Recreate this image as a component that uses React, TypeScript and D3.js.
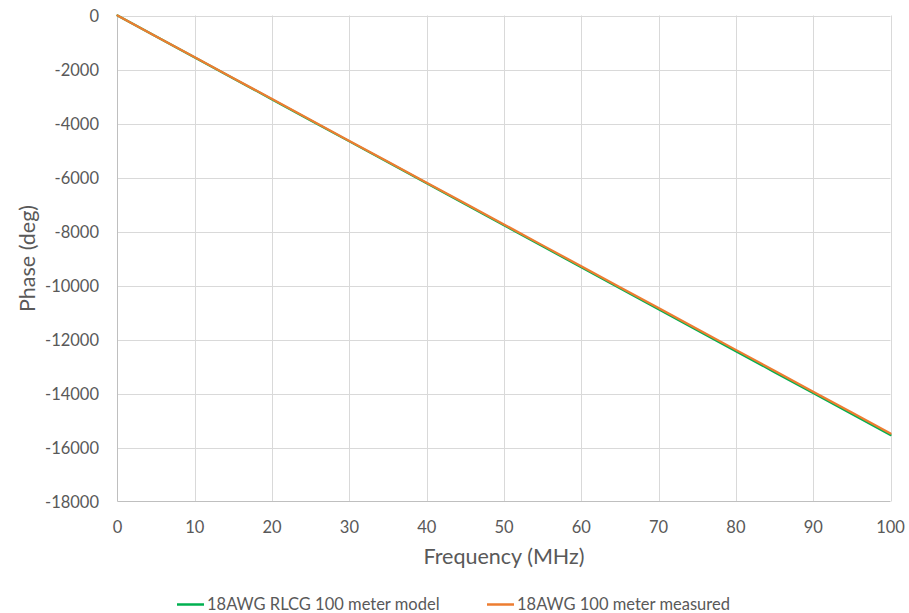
import React, { useEffect, useRef } from 'react';
import * as d3 from 'd3';

// frequency points (MHz)
const freqs = [0, 5, 10, 15, 20, 25, 30, 35, 40, 45, 50, 55, 60, 65, 70, 75, 80, 85, 90, 95, 100];
// phase (deg)
const modelPhase = [0, -777, -1554, -2331, -3108, -3885, -4662, -5439, -6216, -6993, -7770, -8547, -9324, -10101, -10878, -11655, -12432, -13209, -13986, -14763, -15540];
const measuredPhase = [0, -774, -1548, -2322, -3096, -3870, -4644, -5418, -6192, -6966, -7740, -8514, -9288, -10062, -10836, -11610, -12384, -13158, -13932, -14706, -15480];

const xTicks = [0, 10, 20, 30, 40, 50, 60, 70, 80, 90, 100];
const yTicks = [0, -2000, -4000, -6000, -8000, -10000, -12000, -14000, -16000, -18000];

const seriesNames = ['18AWG RLCG 100 meter model', '18AWG 100 meter measured'];
const seriesColors = ['#00b050', '#ed7d31'];

const FONT = 'Lato, "Open Sans", sans-serif';
const TEXT = '#595959';

export default function App() {
  const ref = useRef<SVGSVGElement>(null);

  useEffect(() => {
    document.body.style.margin = '0';
    document.body.style.overflow = 'hidden';

    const width = 909;
    const height = 613;
    const svg = d3.select(ref.current);
    svg.selectAll('*').remove();

    const x = d3.scaleLinear().domain([0, 100]).range([117.5, 890.5]);
    const y = d3.scaleLinear().domain([-18000, 0]).range([501.5, 15.5]);

    svg.append('rect').attr('width', width).attr('height', height).attr('fill', '#fff');

    // gridlines
    const grid = svg.append('g');
    grid.selectAll('line.v')
      .data(xTicks.slice(1))
      .join('line')
      .attr('x1', d => Math.round(x(d)) + 0.5)
      .attr('x2', d => Math.round(x(d)) + 0.5)
      .attr('y1', y(0))
      .attr('y2', y(-18000))
      .attr('stroke', '#d9d9d9');
    grid.selectAll('line.h')
      .data(yTicks.slice(0, -1))
      .join('line')
      .attr('x1', x(0))
      .attr('x2', x(100))
      .attr('y1', d => Math.round(y(d)) + 0.5)
      .attr('y2', d => Math.round(y(d)) + 0.5)
      .attr('stroke', '#d9d9d9');

    // axis lines
    svg.append('line')
      .attr('x1', x(0)).attr('x2', x(0))
      .attr('y1', y(0)).attr('y2', y(-18000))
      .attr('stroke', '#bfbfbf');
    svg.append('line')
      .attr('x1', x(0)).attr('x2', x(100))
      .attr('y1', y(-18000)).attr('y2', y(-18000))
      .attr('stroke', '#bfbfbf');

    // tick labels
    svg.append('g').selectAll('text')
      .data(yTicks)
      .join('text')
      .attr('x', 99)
      .attr('y', d => y(d) + 6.5)
      .attr('text-anchor', 'end')
      .attr('font-family', FONT)
      .attr('font-size', 16.5)
      .attr('fill', TEXT)
      .text(d => d);

    svg.append('g').selectAll('text')
      .data(xTicks)
      .join('text')
      .attr('x', d => x(d))
      .attr('y', 532.5)
      .attr('text-anchor', 'middle')
      .attr('font-family', FONT)
      .attr('font-size', 16.5)
      .attr('fill', TEXT)
      .text(d => d);

    // axis titles
    svg.append('text')
      .attr('x', (x(0) + x(100)) / 2)
      .attr('y', 563.5)
      .attr('text-anchor', 'middle')
      .attr('font-family', FONT)
      .attr('font-size', 21.5)
      .attr('fill', TEXT)
      .text('Frequency (MHz)');

    svg.append('text')
      .attr('transform', `translate(35,${(y(0) + y(-18000)) / 2}) rotate(-90)`)
      .attr('text-anchor', 'middle')
      .attr('font-family', FONT)
      .attr('font-size', 21.5)
      .attr('fill', TEXT)
      .text('Phase (deg)');

    // series
    const line = d3.line<number>()
      .x((_, i) => x(freqs[i]))
      .y(d => y(d));
    [modelPhase, measuredPhase].forEach((vals, i) => {
      svg.append('path')
        .datum(vals)
        .attr('d', line)
        .attr('fill', 'none')
        .attr('stroke', seriesColors[i])
        .attr('stroke-width', 2.25)
        .attr('stroke-linejoin', 'round')
        .attr('stroke-linecap', 'round');
    });

    // legend
    const legendX = [177, 487];
    const legend = svg.append('g');
    seriesNames.forEach((name, i) => {
      legend.append('line')
        .attr('x1', legendX[i]).attr('x2', legendX[i] + 27)
        .attr('y1', 604.5).attr('y2', 604.5)
        .attr('stroke', seriesColors[i])
        .attr('stroke-width', 2.5);
      legend.append('text')
        .attr('x', legendX[i] + 30)
        .attr('y', 610)
        .attr('font-family', FONT)
        .attr('font-size', 16.5)
        .attr('fill', TEXT)
        .text(name);
    });
  }, []);

  return (
    <svg
      ref={ref}
      width={909}
      height={613}
      style={{ display: 'block', position: 'fixed', left: 0, top: 0 }}
    />
  );
}
